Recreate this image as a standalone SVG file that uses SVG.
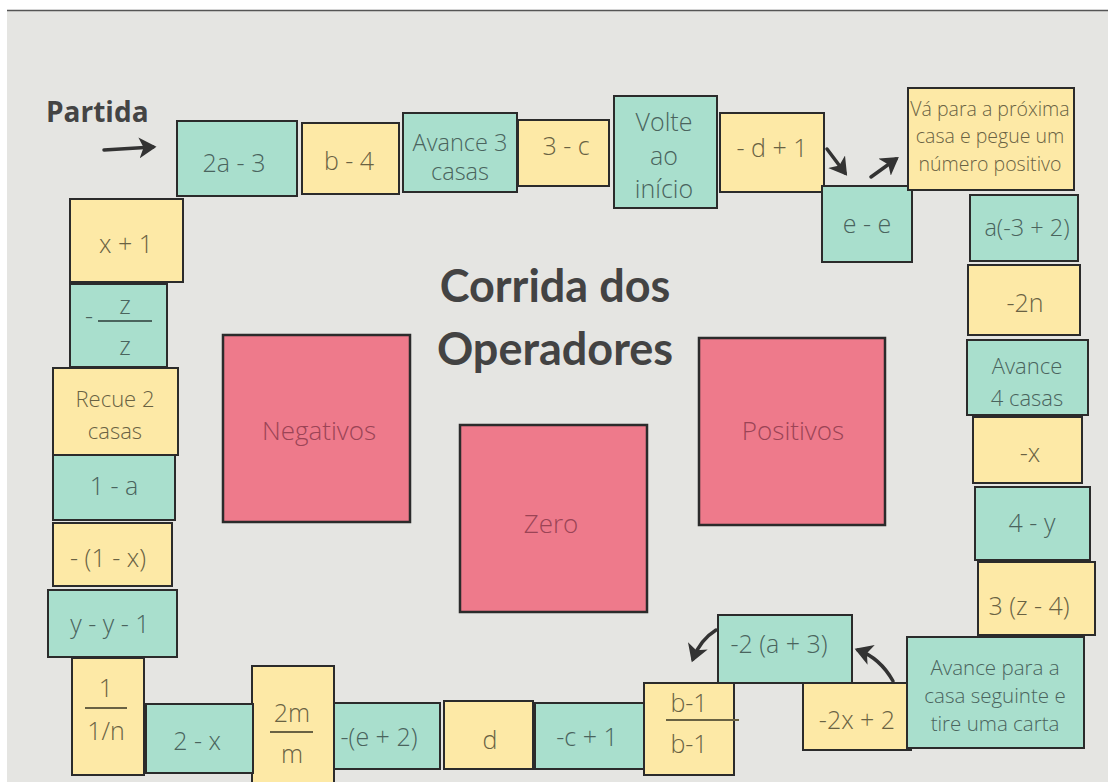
<svg xmlns="http://www.w3.org/2000/svg" width="1108" height="782" viewBox="0 0 1108 782">
<defs>
<style>
.bg{fill:#e5e5e2}
.teal{fill:#a9dfcd;stroke:#2b2b2b;stroke-width:2}
.yel{fill:#fde9a6;stroke:#2b2b2b;stroke-width:2}
.pink{fill:#ee7a8b;stroke:#2b2b2b;stroke-width:2.5}
.t{font-family:'Open Sans','Noto Sans',sans-serif;font-size:25px;font-weight:300;text-anchor:middle;dominant-baseline:central}
.tt{fill:#4a645d}
.ty{fill:#696243}
.tp{fill:#9b4456;font-size:26px}
.s19{font-size:19.5px}
.s20{font-size:20.5px}
.s22{font-size:22px}
.s23{font-size:23.5px}
.fl{stroke-width:2.2}
.flt{stroke:#4a645d}
.fly{stroke:#696243}
.arr{fill:none;stroke:#333;stroke-width:3.5;stroke-linecap:round}
.title{font-family:'Lato','Noto Sans',sans-serif;font-size:45px;font-weight:700;fill:#434343;text-anchor:middle}
</style>
<marker id="ah" markerWidth="6" markerHeight="6" refX="4" refY="3" orient="auto" markerUnits="strokeWidth">
<path d="M0,0 L5,3 L0,6 L1.3,3 Z" fill="#333"/>
</marker>
</defs>
<rect class="bg" x="0" y="0" width="1108" height="782"/>
<rect x="0" y="0" width="1108" height="10" fill="#ffffff"/>
<rect x="0" y="0" width="7" height="782" fill="#ffffff"/>
<line x1="7" y1="10.5" x2="1108" y2="10.5" stroke="#555" stroke-width="1.5"/>

<g id="title">
<text class="title" x="555" y="302">Corrida dos</text>
<text class="title" x="555" y="365">Operadores</text>
</g>
<g id="partida">
<text x="46" y="122" font-family="'Open Sans','Noto Sans',sans-serif" font-size="28" font-weight="700" fill="#444">Partida</text>
</g>

<g id="top">
<g id="n-2a3"><rect class="teal" x="177" y="121" width="120" height="75"/><text class="t tt" x="234" y="162">2a - 3</text></g>
<g id="n-b4"><rect class="yel" x="302" y="123" width="97" height="71"/><text class="t ty" x="349" y="160">b - 4</text></g>
<g id="n-av3"><rect class="teal" x="403" y="113" width="114" height="79"/><text class="t tt s23" x="460" y="142">Avance 3</text><text class="t tt s23" x="460" y="171">casas</text></g>
<g id="n-3c"><rect class="yel" x="518" y="120" width="91" height="66"/><text class="t ty" x="566" y="145">3 - c</text></g>
<g id="n-volte"><rect class="teal" x="614" y="96" width="103" height="112"/><text class="t tt" x="664" y="121">Volte</text><text class="t tt" x="664" y="155">ao</text><text class="t tt" x="664" y="188">início</text></g>
<g id="n-d1"><rect class="yel" x="720" y="113" width="104" height="79"/><text class="t ty" x="772" y="147">- d + 1</text></g>
<g id="n-ee"><rect class="teal" x="822" y="186" width="90" height="76"/><text class="t tt" x="867" y="223">e - e</text></g>
<g id="n-va"><rect class="yel" x="908" y="88" width="166" height="102"/><text class="t ty s19" x="990" y="108">Vá para a próxima</text><text class="t ty s19" x="990" y="135">casa e pegue um</text><text class="t ty s19" x="990" y="163">número positivo</text></g>
</g>

<g id="right">
<g id="n-a32"><rect class="teal" x="970" y="195" width="108" height="66"/><text class="t tt s23" x="1027" y="227">a(-3 + 2)</text></g>
<g id="n-2n"><rect class="yel" x="968" y="265" width="112" height="70"/><text class="t ty" x="1025" y="302">-2n</text></g>
<g id="n-av4"><rect class="teal" x="967" y="340" width="121" height="75"/><text class="t tt s22" x="1027" y="365">Avance</text><text class="t tt s22" x="1027" y="397">4 casas</text></g>
<g id="n-x"><rect class="yel" x="973" y="417" width="109" height="66"/><text class="t ty" x="1030" y="452">-x</text></g>
<g id="n-4y"><rect class="teal" x="975" y="487" width="115" height="73"/><text class="t tt" x="1032" y="522">4 - y</text></g>
<g id="n-3z4"><rect class="yel" x="978" y="562" width="117" height="73"/><text class="t ty" x="1029" y="605">3 (z - 4)</text></g>
</g>

<g id="bottom">
<g id="n-2x2"><rect class="yel" x="803" y="683" width="108" height="67"/><text class="t ty" x="857" y="719">-2x + 2</text></g>
<g id="n-avp"><rect class="teal" x="907" y="637" width="177" height="111"/><text class="t tt s20" x="995" y="667">Avance para a</text><text class="t tt s20" x="995" y="695">casa seguinte e</text><text class="t tt s20" x="995" y="723">tire uma carta</text></g>
<g id="n-2a3b"><rect class="teal" x="718" y="615" width="134" height="68"/><text class="t tt" x="779" y="643">-2 (a + 3)</text></g>
<g id="n-b1"><rect class="yel" x="644" y="683" width="90" height="92"/><text class="t ty" x="689" y="702">b-1</text><line class="fl fly" x1="666" y1="720" x2="739" y2="720"/><text class="t ty" x="689" y="743">b-1</text></g>
<g id="n-c1"><rect class="teal" x="535" y="703" width="109" height="66"/><text class="t tt" x="587" y="736">-c + 1</text></g>
<g id="n-d"><rect class="yel" x="444" y="701" width="89" height="68"/><text class="t ty" x="490" y="739">d</text></g>
<g id="n-e2"><rect class="teal" x="334" y="703" width="106" height="66"/><text class="t tt" x="379" y="736">-(e + 2)</text></g>
<g id="n-2m"><rect class="yel" x="252" y="666" width="82" height="122"/><text class="t ty" x="292" y="712">2m</text><line class="fl fly" x1="270" y1="732" x2="313" y2="732"/><text class="t ty" x="292" y="753">m</text></g>
<g id="n-2x"><rect class="teal" x="146" y="704" width="107" height="69"/><text class="t tt" x="197" y="740">2 - x</text></g>
<g id="n-1n"><rect class="yel" x="72" y="658" width="72" height="117"/><text class="t ty" x="106" y="687">1</text><line class="fl fly" x1="85" y1="708" x2="127" y2="708"/><text class="t ty" x="106" y="730">1/n</text></g>
</g>

<g id="left">
<g id="n-yy1"><rect class="teal" x="48" y="590" width="129" height="67"/><text class="t tt" x="110" y="623">y - y - 1</text></g>
<g id="n-1x"><rect class="yel" x="53" y="523" width="119" height="63"/><text class="t ty" x="108" y="557">- (1 - x)</text></g>
<g id="n-1a"><rect class="teal" x="53" y="455" width="122" height="65"/><text class="t tt" x="114" y="485">1 - a</text></g>
<g id="n-recue"><rect class="yel" x="53" y="368" width="125" height="87"/><text class="t ty s22" x="115" y="398">Recue 2</text><text class="t ty s22" x="115" y="430">casas</text></g>
<g id="n-zz"><rect class="teal" x="70" y="284" width="97" height="83"/><text class="t tt" x="89" y="315">-</text><text class="t tt" x="125" y="304">z</text><line class="fl flt" x1="98" y1="321" x2="152" y2="321"/><text class="t tt" x="125" y="345">z</text></g>
<g id="n-x1"><rect class="yel" x="70" y="199" width="113" height="83"/><text class="t ty" x="126" y="243">x + 1</text></g>
</g>

<g id="center">
<g id="n-neg"><rect class="pink" x="223" y="335" width="187" height="187"/><text class="t tp" x="319" y="430">Negativos</text></g>
<g id="n-zero"><rect class="pink" x="460" y="425" width="187" height="187"/><text class="t tp" x="551" y="523">Zero</text></g>
<g id="n-pos"><rect class="pink" x="699" y="338" width="186" height="187"/><text class="t tp" x="793" y="430">Positivos</text></g>
</g>

<g id="connectors">
<path class="arr" d="M104,150 L153,147" marker-end="url(#ah)"/>
<path class="arr" d="M827,149 L845,173" marker-end="url(#ah)"/>
<path class="arr" d="M871,177 L896,159" marker-end="url(#ah)"/>
<path class="arr" d="M716,630 Q700,640 693,659" marker-end="url(#ah)"/>
<path class="arr" d="M893,681 Q880,658 858,650" marker-end="url(#ah)"/>
</g>
</svg>
